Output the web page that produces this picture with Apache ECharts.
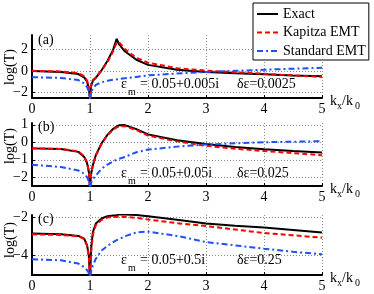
<!DOCTYPE html>
<html>
<head>
<meta charset="utf-8">
<script src="https://cdn.jsdelivr.net/npm/echarts@6.0.0/dist/echarts.min.js"></script>
<style>
html,body{margin:0;padding:0;background:#fff;}
#chart{width:374px;height:294px;}
</style>
</head>
<body>
<div id="chart"></div>
<script>
// ---- data ----
const kx = [0, 0.5, 0.8, 0.9, 0.95, 0.98, 1.0, 1.02, 1.05, 1.1, 1.2, 1.3, 1.4, 1.46, 1.5, 1.6, 1.8, 2.0, 2.5, 3.0, 3.5, 4.0, 4.5, 5.0];

const exactA    = [-0.02, -0.1, -0.3, -0.6, -1.0, -1.6, -2.6, -1.4, -0.9, -0.65, 0.05, 0.9, 1.95, 2.95, 2.45, 1.8, 1.02, 0.55, 0.1, -0.1, -0.22, -0.32, -0.42, -0.5];
const kapitzaA  = [0.0, -0.05, -0.2, -0.5, -0.9, -1.5, -2.6, -1.3, -0.85, -0.6, 0.05, 0.8, 1.8, 2.6, 2.65, 2.0, 1.2, 0.75, 0.25, 0.02, -0.12, -0.27, -0.42, -0.56];
const standardA = [-0.58, -0.65, -0.85, -1.15, -1.5, -1.9, -2.6, -2.0, -1.6, -1.3, -1.05, -0.92, -0.82, -0.78, -0.75, -0.68, -0.56, -0.42, -0.25, -0.1, 0.0, 0.1, 0.2, 0.28];

const exactB    = [-0.35, -0.39, -0.55, -0.84, -1.2, -1.7, -2.6, -1.8, -1.3, -0.74, -0.06, 0.42, 0.77, 0.9, 0.97, 0.98, 0.75, 0.45, 0.12, -0.1, -0.27, -0.4, -0.5, -0.58];
const kapitzaB  = [-0.35, -0.38, -0.52, -0.8, -1.15, -1.65, -2.6, -1.8, -1.3, -0.75, -0.08, 0.4, 0.72, 0.85, 0.9, 0.92, 0.7, 0.38, 0.05, -0.2, -0.37, -0.5, -0.62, -0.74];
const standardB = [-1.28, -1.42, -1.61, -1.8, -2.0, -2.25, -2.6, -2.3, -2.1, -1.9, -1.51, -1.28, -1.09, -1.0, -0.95, -0.84, -0.57, -0.42, -0.25, -0.13, -0.06, 0.0, 0.03, 0.06];

const exactC    = [-2.86, -2.9, -2.98, -3.12, -3.47, -4.0, -5.2, -3.6, -2.78, -2.34, -2.08, -1.96, -1.92, -1.9, -1.88, -1.87, -1.9, -1.96, -2.15, -2.34, -2.45, -2.55, -2.68, -2.81];
const kapitzaC  = [-2.9, -2.93, -3.0, -3.15, -3.5, -4.1, -5.2, -3.8, -2.9, -2.43, -2.15, -2.03, -2.0, -1.99, -1.99, -2.0, -2.05, -2.13, -2.32, -2.47, -2.65, -2.83, -2.95, -3.07];
const standardC = [-4.19, -4.24, -4.41, -4.59, -4.75, -4.9, -5.2, -4.8, -4.5, -4.16, -3.73, -3.5, -3.3, -3.2, -3.15, -3.0, -2.8, -2.76, -2.98, -3.3, -3.47, -3.64, -3.8, -3.93];

const seriesNames = ['Exact', 'Kapitza EMT', 'Standard EMT'];
const xTicks = [0, 1, 2, 3, 4, 5];
const yTicksA = [-2, 0, 2];
const yTicksB = [-2, -1, 0, 1];
const yTicksC = [-4, -2];
const panelLabels = ['(a)', '(b)', '(c)'];
const epsValues = ['= 0.05+0.005i', '= 0.05+0.05i', '= 0.05+0.5i'];
const deltaLabels = ['δε=0.0025', 'δε=0.025', 'δε=0.25'];
const yName = 'log(T)';

// ---- layout ----
const FONT = 'Liberation Serif';
const panels = [
  {top: 35, height: 63, min: -2.5, max: 3.3, ticks: yTicksA, data: [exactA, kapitzaA, standardA], labelY: 41, textY: 84, yNameY: 67},
  {top: 123, height: 63, min: -2.5, max: 1.1, ticks: yTicksB, data: [exactB, kapitzaB, standardB], labelY: 128, textY: 173, yNameY: 146},
  {top: 215, height: 60, min: -5, max: -1.9, ticks: yTicksC, data: [exactC, kapitzaC, standardC], labelY: 220, textY: 260, yNameY: 240}
];
const styles = [
  {color: '#000000', width: 2, type: 'solid'},
  {color: '#ff0000', width: 2, type: [5, 3]},
  {color: '#1e50ff', width: 2, type: [6, 3, 2, 3]}
];

const grids = [], xAxes = [], yAxes = [], series = [], graphics = [];
const fmt = v => String(v).replace('-', '\u2212');

panels.forEach((p, i) => {
  grids.push({left: 32, width: 290, top: p.top, height: p.height});
  xAxes.push({
    type: 'value', gridIndex: i, min: 0, max: 5, interval: 1,
    axisLine: {show: true, onZero: false, lineStyle: {color: '#000', width: 2}},
    axisTick: {show: true, inside: true, length: 3, lineStyle: {color: '#000', width: 1}},
    axisLabel: {margin: 4, color: '#000', fontFamily: FONT, fontSize: 14, customValues: xTicks},
    splitLine: {show: true, lineStyle: {color: '#8a8a8a', width: 1, type: [1, 2]}}
  });
  yAxes.push({
    type: 'value', gridIndex: i, min: p.min, max: p.max,
    axisLine: {show: true, onZero: false, lineStyle: {color: '#000', width: 2}},
    axisTick: {show: true, inside: true, length: 3, customValues: p.ticks, lineStyle: {color: '#000', width: 1}},
    axisLabel: {margin: 4, color: '#000', fontFamily: FONT, fontSize: 14, customValues: p.ticks, formatter: fmt},
    splitLine: {show: true, lineStyle: {color: '#8a8a8a', width: 1, type: [1, 2]}}
  });
  p.data.forEach((vals, k) => {
    series.push({
      name: seriesNames[k], type: 'line', xAxisIndex: i, yAxisIndex: i,
      data: kx.map((x, j) => [x, vals[j]]),
      symbol: 'none', showSymbol: false, smooth: false, clip: true,
      lineStyle: {color: styles[k].color, width: styles[k].width, type: styles[k].type},
      itemStyle: {color: styles[k].color},
      z: 2 + k
    });
  });
  const ts = {fontFamily: FONT, fontSize: 14, fill: '#000'};
  graphics.push({type: 'text', left: 38, top: p.labelY - 8, style: Object.assign({text: panelLabels[i]}, ts), z: 10});
  graphics.push({type: 'text', x: 121, y: p.textY, style: Object.assign({text: 'ε', verticalAlign: 'middle'}, ts), z: 10});
  graphics.push({type: 'text', x: 128, y: p.textY + 8, style: Object.assign({}, ts, {text: 'm', fontSize: 10, verticalAlign: 'middle'}), z: 10});
  graphics.push({type: 'text', x: 140, y: p.textY, style: Object.assign({text: epsValues[i], verticalAlign: 'middle'}, ts), z: 10});
  graphics.push({type: 'text', x: 237, y: p.textY, style: Object.assign({text: deltaLabels[i], verticalAlign: 'middle'}, ts), z: 10});
  const ay = p.top + p.height;
  graphics.push({type: 'text', x: 330, y: ay + 3, style: Object.assign({text: 'k', verticalAlign: 'middle'}, ts), z: 10});
  graphics.push({type: 'text', x: 337, y: ay + 8, style: Object.assign({}, ts, {text: 'x', fontSize: 10, verticalAlign: 'middle'}), z: 10});
  graphics.push({type: 'text', x: 342, y: ay + 3, style: Object.assign({text: '/k', verticalAlign: 'middle'}, ts), z: 10});
  graphics.push({type: 'text', x: 355, y: ay + 8, style: Object.assign({}, ts, {text: '0', fontSize: 10, verticalAlign: 'middle'}), z: 10});
  graphics.push({type: 'text', x: 10, y: p.yNameY, rotation: Math.PI / 2,
    style: Object.assign({text: yName, align: 'center', verticalAlign: 'middle'}, ts), z: 10});
});

const chart = echarts.init(document.getElementById('chart'), null, {renderer: 'canvas'});
chart.setOption({
  animation: false,
  backgroundColor: '#fff',
  grid: grids,
  xAxis: xAxes,
  yAxis: yAxes,
  series: series,
  legend: {
    data: seriesNames, orient: 'vertical', left: 253, top: 3,
    itemWidth: 21, itemHeight: 14, itemGap: 4.5, padding: [4, 3, 2, 3],
    borderColor: '#000', borderWidth: 1, backgroundColor: '#fff',
    itemStyle: {opacity: 0},
    textStyle: {fontFamily: FONT, fontSize: 14, color: '#000'},
    z: 20
  },
  graphic: graphics
});
</script>
</body>
</html>
